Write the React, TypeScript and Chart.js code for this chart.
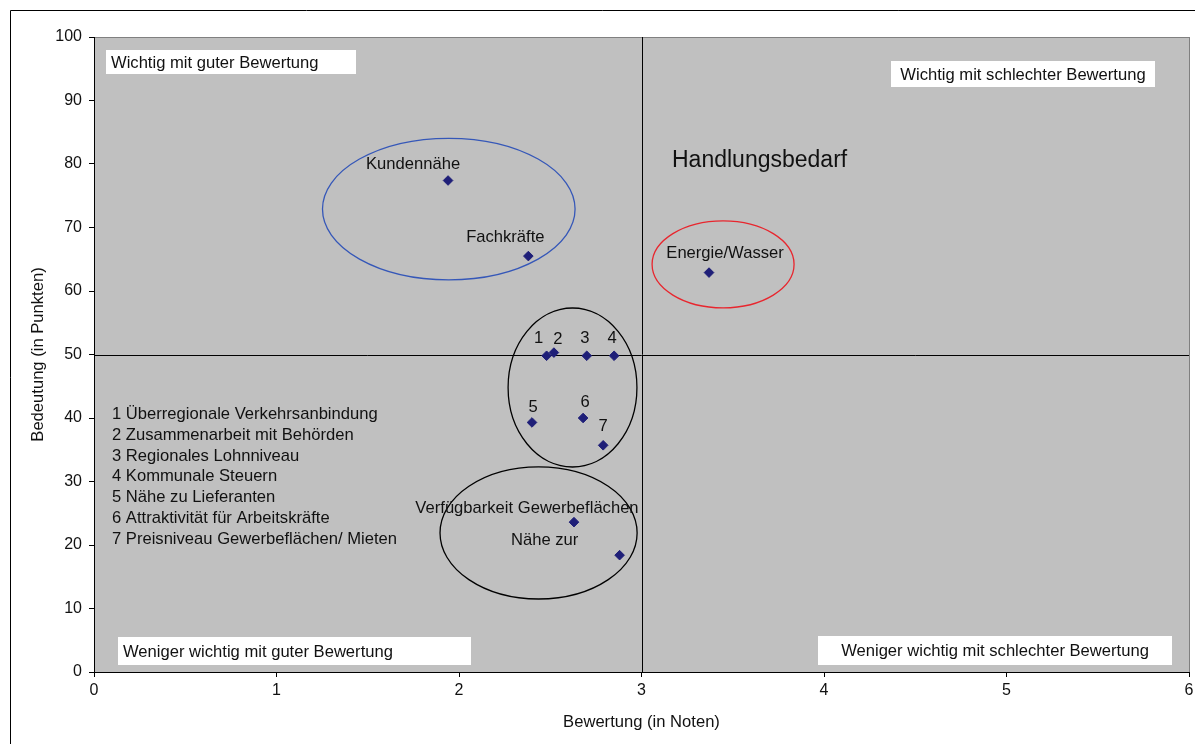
import React, { useEffect, useRef } from "react";
import { Chart, registerables } from "chart.js";

Chart.register(...registerables);

// ---- Data ----
const pointNames = [
  "Kundennähe",
  "Fachkräfte",
  "Energie/Wasser",
  "1",
  "2",
  "3",
  "4",
  "5",
  "6",
  "7",
  "Verfügbarkeit Gewerbeflächen",
  "Nähe zur",
];
const ratingValues = [1.94, 2.38, 3.37, 2.48, 2.52, 2.7, 2.85, 2.4, 2.68, 2.79, 2.63, 2.88];
const importanceValues = [77.4, 65.5, 62.9, 49.8, 50.3, 49.8, 49.8, 39.3, 40.0, 35.7, 23.6, 18.4];

const xTicks = [0, 1, 2, 3, 4, 5, 6];
const yTicks = [0, 10, 20, 30, 40, 50, 60, 70, 80, 90, 100];

const legendLines = [
  "1 Überregionale Verkehrsanbindung",
  "2 Zusammenarbeit mit Behörden",
  "3 Regionales Lohnniveau",
  "4 Kommunale Steuern",
  "5 Nähe zu Lieferanten",
  "6 Attraktivität für Arbeitskräfte",
  "7 Preisniveau Gewerbeflächen/ Mieten",
];

const quadrantTitles = [
  "Wichtig mit guter Bewertung",
  "Wichtig mit schlechter Bewertung",
  "Weniger wichtig mit guter Bewertung",
  "Weniger wichtig mit schlechter Bewertung",
];

// ellipse groups in data units: centre x, centre y, radius x, radius y
const ellipseCx = [1.944, 3.447, 2.622, 2.436];
const ellipseCy = [72.9, 64.2, 44.8, 21.9];
const ellipseRx = [0.692, 0.389, 0.353, 0.54];
const ellipseRy = [11.15, 6.85, 12.52, 10.4];

const splitX = 3;
const splitY = 50;

// ---- Styles / layout ----
const FONT = "'Liberation Sans', Arial, Helvetica, sans-serif";
const TEXT_SIZE = 16.6;
const ellipseColors = ["#3557b8", "#e8262e", "#000000", "#000000"];
const labelOffsets: [number, number][] = [
  [-35, -16],
  [-23, -19],
  [16, -19],
  [-8, -17],
  [4, -13],
  [-2, -17],
  [-2, -17],
  [1, -15],
  [2, -16],
  [0, -19],
  [-47, -14],
  [-75, -15],
];
// boxes: [left, top, width, height, align]
const quadrantBoxes: [number, number, number, number, string][] = [
  [106, 50, 250, 24, "left"],
  [891, 61, 264, 26, "center"],
  [118, 637, 353, 28, "left"],
  [818, 636, 354, 29, "center"],
];

const overlayPlugin = {
  id: "overlay",
  beforeDraw(chart: any) {
    const { ctx, chartArea: a } = chart;
    ctx.save();
    ctx.fillStyle = "#ffffff";
    ctx.fillRect(0, 0, chart.width, chart.height);
    // outer frame
    ctx.strokeStyle = "#000000";
    ctx.lineWidth = 1;
    ctx.beginPath();
    ctx.moveTo(10.5, chart.height);
    ctx.lineTo(10.5, 10.5);
    ctx.lineTo(chart.width, 10.5);
    ctx.stroke();
    // plot background
    ctx.fillStyle = "#c0c0c0";
    ctx.fillRect(a.left, a.top, a.right - a.left, a.bottom - a.top);
    ctx.strokeStyle = "#808080";
    ctx.strokeRect(Math.round(a.left) + 0.5, Math.round(a.top) + 0.5, Math.round(a.right - a.left), Math.round(a.bottom - a.top));
    ctx.restore();
  },
  beforeDatasetsDraw(chart: any) {
    const { ctx, chartArea: a, scales } = chart;
    const xs = scales.x;
    const ys = scales.y;
    ctx.save();
    // quadrant lines
    ctx.strokeStyle = "#000000";
    ctx.lineWidth = 1;
    const px = Math.round(xs.getPixelForValue(splitX)) + 0.5;
    const py = Math.round(ys.getPixelForValue(splitY)) + 0.5;
    ctx.beginPath();
    ctx.moveTo(px, a.top);
    ctx.lineTo(px, a.bottom);
    ctx.moveTo(a.left, py);
    ctx.lineTo(a.right, py);
    ctx.stroke();

    // ellipses
    for (let i = 0; i < ellipseCx.length; i++) {
      const cx = xs.getPixelForValue(ellipseCx[i]);
      const cy = ys.getPixelForValue(ellipseCy[i]);
      const rx = Math.abs(xs.getPixelForValue(ellipseCx[i] + ellipseRx[i]) - cx);
      const ry = Math.abs(ys.getPixelForValue(ellipseCy[i] + ellipseRy[i]) - cy);
      ctx.beginPath();
      ctx.ellipse(cx, cy, rx, ry, 0, 0, Math.PI * 2);
      ctx.strokeStyle = ellipseColors[i];
      ctx.lineWidth = 1.3;
      ctx.stroke();
    }

    // point labels
    ctx.fillStyle = "#111111";
    ctx.font = `${TEXT_SIZE}px ${FONT}`;
    ctx.textAlign = "center";
    ctx.textBaseline = "middle";
    for (let i = 0; i < pointNames.length; i++) {
      const x = xs.getPixelForValue(ratingValues[i]);
      const y = ys.getPixelForValue(importanceValues[i]);
      ctx.fillText(pointNames[i], x + labelOffsets[i][0], y + labelOffsets[i][1]);
    }

    // Handlungsbedarf
    ctx.font = `23px ${FONT}`;
    ctx.textAlign = "left";
    ctx.fillText("Handlungsbedarf", 672, 161);

    // legend list
    ctx.font = `${TEXT_SIZE}px ${FONT}`;
    ctx.textAlign = "left";
    for (let i = 0; i < legendLines.length; i++) {
      ctx.fillText(legendLines[i], 112, 414.5 + i * 20.8);
    }

    // quadrant boxes
    for (let i = 0; i < quadrantTitles.length; i++) {
      const [l, t, w, h, align] = quadrantBoxes[i];
      ctx.fillStyle = "#ffffff";
      ctx.fillRect(l, t, w, h);
      ctx.fillStyle = "#111111";
      ctx.textAlign = align as CanvasTextAlign;
      const tx = align === "center" ? l + w / 2 : l + 5;
      ctx.fillText(quadrantTitles[i], tx, t + h / 2 + 1);
    }

    // axis titles
    ctx.fillStyle = "#111111";
    ctx.textAlign = "center";
    ctx.fillText("Bewertung (in Noten)", (a.left + a.right) / 2, 722);
    ctx.save();
    ctx.translate(38, (a.top + a.bottom) / 2);
    ctx.rotate(-Math.PI / 2);
    ctx.fillText("Bedeutung (in Punkten)", 0, 0);
    ctx.restore();

    ctx.restore();
  },
};

export default function App() {
  const ref = useRef<HTMLCanvasElement | null>(null);

  useEffect(() => {
    if (!ref.current) return;
    const points = ratingValues.map((x, i) => ({ x, y: importanceValues[i] }));
    const chart = new Chart(ref.current, {
      type: "scatter",
      data: {
        datasets: [
          {
            data: points,
            pointStyle: "rectRot",
            pointRadius: 4.8,
            pointBackgroundColor: "#1f1f78",
            pointBorderColor: "#1f1f78",
            pointBorderWidth: 1,
          },
        ],
      },
      options: {
        responsive: false,
        animation: false,
        events: [],
        layout: { padding: { left: 0, top: 37, right: 6, bottom: 0 } },
        plugins: {
          legend: { display: false },
          tooltip: { enabled: false },
          title: { display: false },
        },
        scales: {
          x: {
            type: "linear",
            min: xTicks[0],
            max: xTicks[xTicks.length - 1],
            afterBuildTicks: (s: any) => {
              s.ticks = xTicks.map((v) => ({ value: v }));
            },
            afterFit: (s: any) => {
              s.height = 72;
              s.paddingLeft = 0;
              s.paddingRight = 0;
            },
            ticks: {
              color: "#111111",
              font: { family: FONT, size: 16 },
              padding: 4,
              maxRotation: 0,
            },
            grid: {
              display: true,
              drawOnChartArea: false,
              drawTicks: true,
              tickLength: 5,
              color: "#000000",
            },
            border: { display: true, color: "#000000", width: 1 },
          },
          y: {
            type: "linear",
            min: yTicks[0],
            max: yTicks[yTicks.length - 1],
            afterBuildTicks: (s: any) => {
              s.ticks = yTicks.map((v) => ({ value: v }));
            },
            afterFit: (s: any) => {
              s.width = 94;
              s.paddingTop = 0;
              s.paddingBottom = 0;
            },
            ticks: {
              color: "#111111",
              font: { family: FONT, size: 16 },
              padding: 7,
            },
            grid: {
              display: true,
              drawOnChartArea: false,
              drawTicks: true,
              tickLength: 5,
              color: "#000000",
            },
            border: { display: true, color: "#000000", width: 1 },
          },
        },
      },
      plugins: [overlayPlugin],
    });
    return () => chart.destroy();
  }, []);

  return (
    <div style={{ position: "fixed", left: 0, top: 0, width: 1195, height: 744 }}>
      <canvas ref={ref} width={1195} height={744} style={{ display: "block" }} />
    </div>
  );
}
